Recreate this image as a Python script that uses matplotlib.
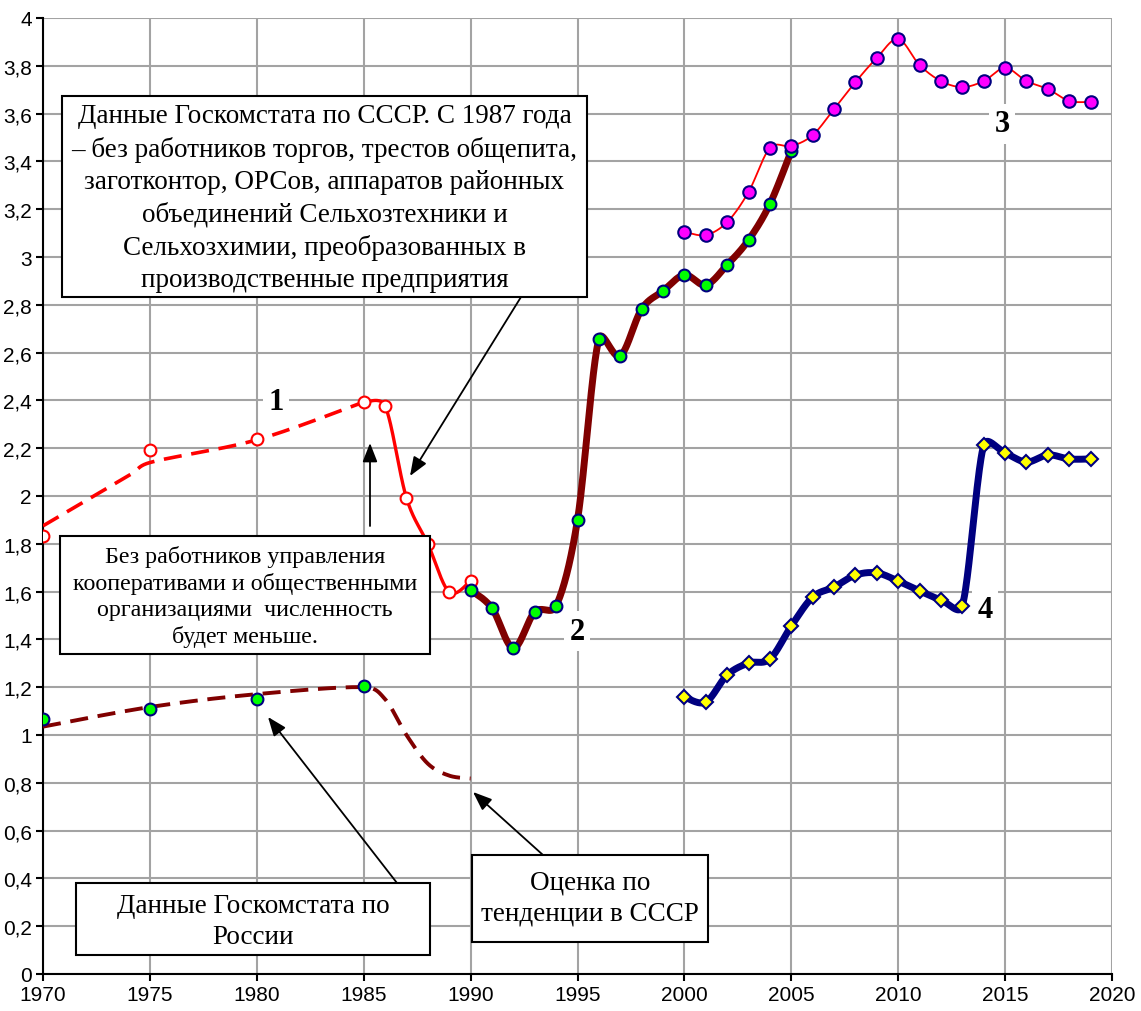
import numpy as np
import matplotlib
matplotlib.use('Agg')
import matplotlib.pyplot as plt
from matplotlib.patches import Rectangle

plt.rcParams['lines.scale_dashes'] = False
plt.rcParams['font.family'] = ['Liberation Sans', 'DejaVu Sans']

# ---------------- data ----------------
ussr_years = [1970, 1975, 1980, 1985, 1986, 1987, 1988, 1989, 1990]
ussr_vals = [1.833, 2.192, 2.238, 2.393, 2.377, 1.992, 1.80, 1.598, 1.644]

ussr_trend_years = [1970, 1974, 1975, 1980, 1985]
ussr_trend_vals = [1.875, 2.085, 2.14, 2.235, 2.393]

rus_early_years = [1970, 1975, 1980, 1985]
rus_early_vals = [1.067, 1.109, 1.151, 1.205]

rus_trend_years = [1970, 1975, 1980, 1985, 1986, 1987, 1988, 1989, 1990]
rus_trend_vals = [1.035, 1.117, 1.171, 1.20, 1.15, 1.00, 0.88, 0.83, 0.818]

rus_years = list(range(1990, 2006))
rus_vals = [1.607, 1.531, 1.364, 1.515, 1.54, 1.90, 2.657, 2.586, 2.782,
            2.858, 2.925, 2.883, 2.967, 3.071, 3.222, 3.444]

s3_years = list(range(2000, 2020))
s3_vals = [3.105, 3.092, 3.146, 3.272, 3.456, 3.464, 3.51, 3.619, 3.732, 3.833,
           3.912, 3.803, 3.736, 3.711, 3.736, 3.791, 3.736, 3.703, 3.653, 3.649]

s4_years = list(range(2000, 2020))
s4_vals = [1.159, 1.138, 1.251, 1.301, 1.318, 1.456, 1.577, 1.619, 1.669, 1.678,
           1.644, 1.603, 1.565, 1.54, 2.213, 2.18, 2.142, 2.172, 2.155, 2.155]

x_ticks = list(range(1970, 2021, 5))
y_ticks = [i / 5 for i in range(0, 21)]
y_tick_labels = ['0', '0,2', '0,4', '0,6', '0,8', '1', '1,2', '1,4', '1,6', '1,8',
                 '2', '2,2', '2,4', '2,6', '2,8', '3', '3,2', '3,4', '3,6', '3,8', '4']

text_a = ("Данные Госкомстата по СССР. С 1987 года\n"
          "– без работников торгов, трестов общепита,\n"
          "заготконтор, ОРСов, аппаратов районных\n"
          "объединений Сельхозтехники и\n"
          "Сельхозхимии, преобразованных в\n"
          "производственные предприятия")
text_b = ("Без работников управления\n"
          "кооперативами и общественными\n"
          "организациями  численность\n"
          "будет меньше.")
text_c = "Данные Госкомстата по\nРоссии"
text_d = "Оценка по\nтенденции в СССР"

# ---------------- figure ----------------
W, H = 1141, 1012
fig = plt.figure(figsize=(W / 100, H / 100), dpi=100)
L, R, T, B = 43, 1112, 19, 975
ax = fig.add_axes([L / W, 1 - B / H, (R - L) / W, (B - T) / H])
ax.set_xlim(1970, 2020)
ax.set_ylim(0, 4)

sx = (R - L) / 50.0
sy = (B - T) / 4.0


def smooth(xs, ys, n=40, lim=0.5):
    """Excel-like smoothed line (Catmull-Rom Bezier in screen space)."""
    P = np.column_stack([np.asarray(xs, float) * sx, np.asarray(ys, float) * sy])
    out = []
    m = len(P)
    for i in range(m - 1):
        p0 = P[i - 1] if i > 0 else P[i]
        p1, p2 = P[i], P[i + 1]
        p3 = P[i + 2] if i + 2 < m else P[i + 1]
        seglen = np.hypot(*(p2 - p1))
        d1 = (p2 - p0) / 6.0
        d2 = (p3 - p1) / 6.0
        for d in (d1, d2):
            ln = np.hypot(*d)
            if ln > lim * seglen:
                d *= lim * seglen / ln
        b1 = p1 + d1
        b2 = p2 - d2
        t = np.linspace(0, 1, n)[:, None]
        seg = ((1 - t) ** 3) * p1 + 3 * ((1 - t) ** 2) * t * b1 + 3 * (1 - t) * t ** 2 * b2 + t ** 3 * p2
        out.append(seg if i == 0 else seg[1:])
    Q = np.vstack(out)
    return Q[:, 0] / sx, Q[:, 1] / sy


grid_c = '#a3a3a3'
ax.set_xticks(x_ticks)
ax.set_yticks(y_ticks)
ax.set_yticklabels(y_tick_labels)
ax.grid(True, color=grid_c, lw=1.5, zorder=0)
ax.set_axisbelow(True)
for s in ['top', 'right']:
    ax.spines[s].set_visible(False)
for s in ['left', 'bottom']:
    ax.spines[s].set_linewidth(1.5)
ax.tick_params(direction='out', length=5, width=1.5, labelsize=15, pad=3)

navy = '#000080'
maroon = '#800000'

# series 1 (USSR) dashed trend + solid
x, y = smooth(ussr_trend_years, ussr_trend_vals)
ax.plot(x, y, color='red', lw=2.6, dashes=(13, 7), zorder=3)
x, y = smooth(ussr_years[3:], ussr_vals[3:])
ax.plot(x, y, color='red', lw=2.4, zorder=3)
ax.plot(ussr_years, ussr_vals, ls='none', marker='o', ms=8.5, mfc='white',
        mec='red', mew=1.5, zorder=5)

# Russia early dashed estimate
x, y = smooth(rus_trend_years, rus_trend_vals)
ax.plot(x, y, color=maroon, lw=2.8, dashes=(13, 7), zorder=3)
ax.plot(rus_early_years, rus_early_vals, ls='none', marker='o', ms=8.5,
        mfc='#00ff00', mec=navy, mew=1.5, zorder=5)

# series 2 (Russia)
x, y = smooth(rus_years, rus_vals)
ax.plot(x, y, color=maroon, lw=5, zorder=3, solid_capstyle='round')
ax.plot(rus_years, rus_vals, ls='none', marker='o', ms=8.5,
        mfc='#00ff00', mec=navy, mew=1.5, zorder=5)

# series 3
x, y = smooth(s3_years, s3_vals)
ax.plot(x, y, color='red', lw=1.3, zorder=4)
ax.plot(s3_years, s3_vals, ls='none', marker='o', ms=9,
        mfc='#ff00ff', mec=navy, mew=1.5, zorder=6)

# series 4
x, y = smooth(s4_years, s4_vals)
ax.plot(x, y, color=navy, lw=5, zorder=3, solid_capstyle='round')
ax.plot(s4_years, s4_vals, ls='none', marker='D', ms=7.5,
        mfc='#ffff00', mec=navy, mew=1.5, zorder=5)


def px2d(px, py):
    return 1970 + (px - L) / sx, (B - py) / sy


def box(x0, y0, x1, y1, text, ls=1.4, fs=19.5, dy=0):
    (dx0, dy0), (dx1, dy1) = px2d(x0, y1), px2d(x1, y0)
    ax.add_patch(Rectangle((dx0, dy0), dx1 - dx0, dy1 - dy0, facecolor='white',
                           edgecolor='black', lw=1.5, zorder=10))
    cx, cy = px2d((x0 + x1) / 2, (y0 + y1) / 2 + dy)
    ax.text(cx, cy, text, ha='center', va='center', fontsize=fs,
            family=['Liberation Serif', 'DejaVu Serif'], linespacing=ls, zorder=11)


def arrow(tx, ty, hx, hy):
    ax.annotate('', xy=px2d(hx, hy), xytext=px2d(tx, ty),
                arrowprops=dict(arrowstyle='-|>,head_length=1.15,head_width=0.45',
                                color='black', lw=1.3, shrinkA=0, shrinkB=0),
                zorder=12)


box(62, 97, 587, 298, text_a, ls=1.37, dy=1)
box(60, 537, 430, 655, text_b, ls=1.32, fs=17.3, dy=1)
box(76, 884, 430, 956, text_c, ls=1.35, dy=2)
box(472, 856, 708, 943, text_d, ls=1.35, dy=-1)

arrow(521, 298, 410, 477)
arrow(370, 527, 370, 444)
arrow(397, 884, 268, 718)
arrow(543, 856, 473, 793)

for lbl, (px, py) in zip(['1', '2', '3', '4'],
                         [(276, 403), (577, 632), (1002, 125), (985, 610)]):
    ax.text(*px2d(px, py), lbl, ha='center', va='center', fontsize=22,
            fontweight='bold', family=['Liberation Serif', 'DejaVu Serif'],
            bbox=dict(facecolor='white', edgecolor='none', pad=4), zorder=9)

fig.savefig('out.png', dpi=100)
